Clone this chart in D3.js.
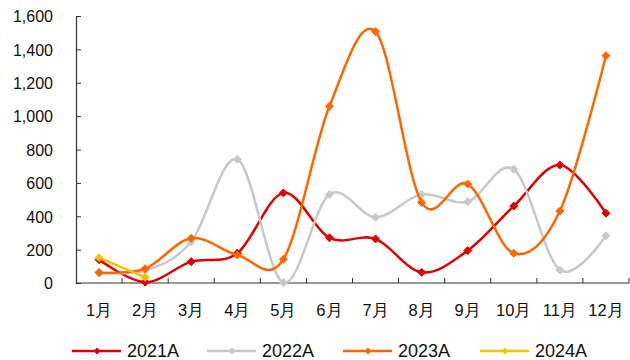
<!DOCTYPE html>
<html>
<head>
<meta charset="utf-8">
<script src="https://cdn.jsdelivr.net/npm/d3@7/dist/d3.min.js"></script>
<style>
  html, body { margin: 0; padding: 0; background: #fff; }
  svg { display: block; font-family: "Liberation Sans", Arial, sans-serif; }
</style>
</head>
<body>
<svg id="chart" width="630" height="360"></svg>
<script>
// Monthly values per year
const months = ["1月","2月","3月","4月","5月","6月","7月","8月","9月","10月","11月","12月"];
const v2021 = [140, 5, 128, 178, 540, 271, 264, 64, 194, 461, 707, 418];
const v2022 = [65, 74, 247, 741, 2, 531, 394, 531, 487, 681, 78, 283];
const v2023 = [62, 86, 268, 168, 142, 1059, 1506, 483, 593, 178, 431, 1362];
const v2024 = [152, 34];
const seriesNames = ["2021A", "2022A", "2023A", "2024A"];
const seriesColors = ["#E00000", "#C8C8C8", "#FF6600", "#FFC000"];
const yTicks = [0, 200, 400, 600, 800, 1000, 1200, 1400, 1600];

const series = [v2021, v2022, v2023, v2024].map((vals, i) => ({
  name: seriesNames[i], color: seriesColors[i], values: vals
}));

const svg = d3.select("#chart");
const m = { left: 76, right: 1, top: 16, bottom: 77 };
const W = 630, H = 360;

const x = d3.scaleBand().domain(months).range([m.left, W - m.right]);
const y = d3.scaleLinear().domain([0, 1600]).range([H - m.bottom, m.top]);

// y-axis with inward ticks
const yAxis = d3.axisLeft(y).tickValues(yTicks).tickSize(-5).tickSizeOuter(0)
  .tickFormat(d3.format(","));
const gy = svg.append("g").attr("transform", `translate(${m.left},0)`).call(yAxis);
gy.select(".domain").attr("stroke", "#333").attr("stroke-width", 1.2);
gy.selectAll(".tick line").attr("stroke", "#333");
gy.selectAll(".tick text").attr("font-size", 16).attr("fill", "#111")
  .attr("x", -23).attr("dy", "0.36em").attr("text-anchor", "end");

// x-axis: inward ticks on category boundaries
const xAxisG = svg.append("g").attr("transform", `translate(0,${y(0)})`);
xAxisG.append("line")
  .attr("x1", m.left).attr("x2", W - m.right)
  .attr("stroke", "#333").attr("stroke-width", 1.2);
const bounds = months.map(d => x(d)).concat([x(months[months.length - 1]) + x.bandwidth()]);
xAxisG.selectAll(".bt").data(bounds.slice(1)).join("line")
  .attr("x1", d => d).attr("x2", d => d).attr("y1", 0).attr("y2", -5)
  .attr("stroke", "#333");
xAxisG.selectAll(".lbl").data(months).join("text")
  .attr("x", d => x(d) + x.bandwidth() / 2)
  .attr("y", 33)
  .attr("text-anchor", "middle")
  .attr("font-size", 16.5).attr("fill", "#111")
  .text(d => d);

const cx = (i) => x(months[i]) + x.bandwidth() / 2;
const line = d3.line()
  .x((d, i) => cx(i))
  .y(d => y(d))
  .curve(d3.curveCardinal.tension(0));

// square diamond marker
const diamondPath = (r) => `M0,${-r}L${r},0L0,${r}L${-r},0Z`;

series.forEach(s => {
  const g = svg.append("g");
  g.append("path")
    .attr("d", line(s.values))
    .attr("fill", "none")
    .attr("stroke", s.color)
    .attr("stroke-width", 2.5);
  g.selectAll("path.mk").data(s.values).join("path")
    .attr("class", "mk")
    .attr("d", diamondPath(4))
    .attr("stroke", s.color).attr("stroke-width", 1).attr("stroke-linejoin", "round")
    .attr("transform", (d, i) => `translate(${cx(i)},${y(d)})`)
    .attr("fill", s.color);
});

// Legend
const legendX = [72, 207, 343, 480];
const legendY = 351;
series.forEach((s, i) => {
  const g = svg.append("g").attr("transform", `translate(${legendX[i]},${legendY})`);
  g.append("line").attr("x1", 0).attr("x2", 49).attr("stroke", s.color).attr("stroke-width", 2.5);
  g.append("path").attr("d", diamondPath(3.5)).attr("transform", "translate(25,0)").attr("fill", s.color);
  g.append("text").attr("x", 55).attr("y", 0).attr("dy", "0.36em")
    .attr("font-size", 18).attr("fill", "#111").text(s.name);
});
</script>
</body>
</html>
